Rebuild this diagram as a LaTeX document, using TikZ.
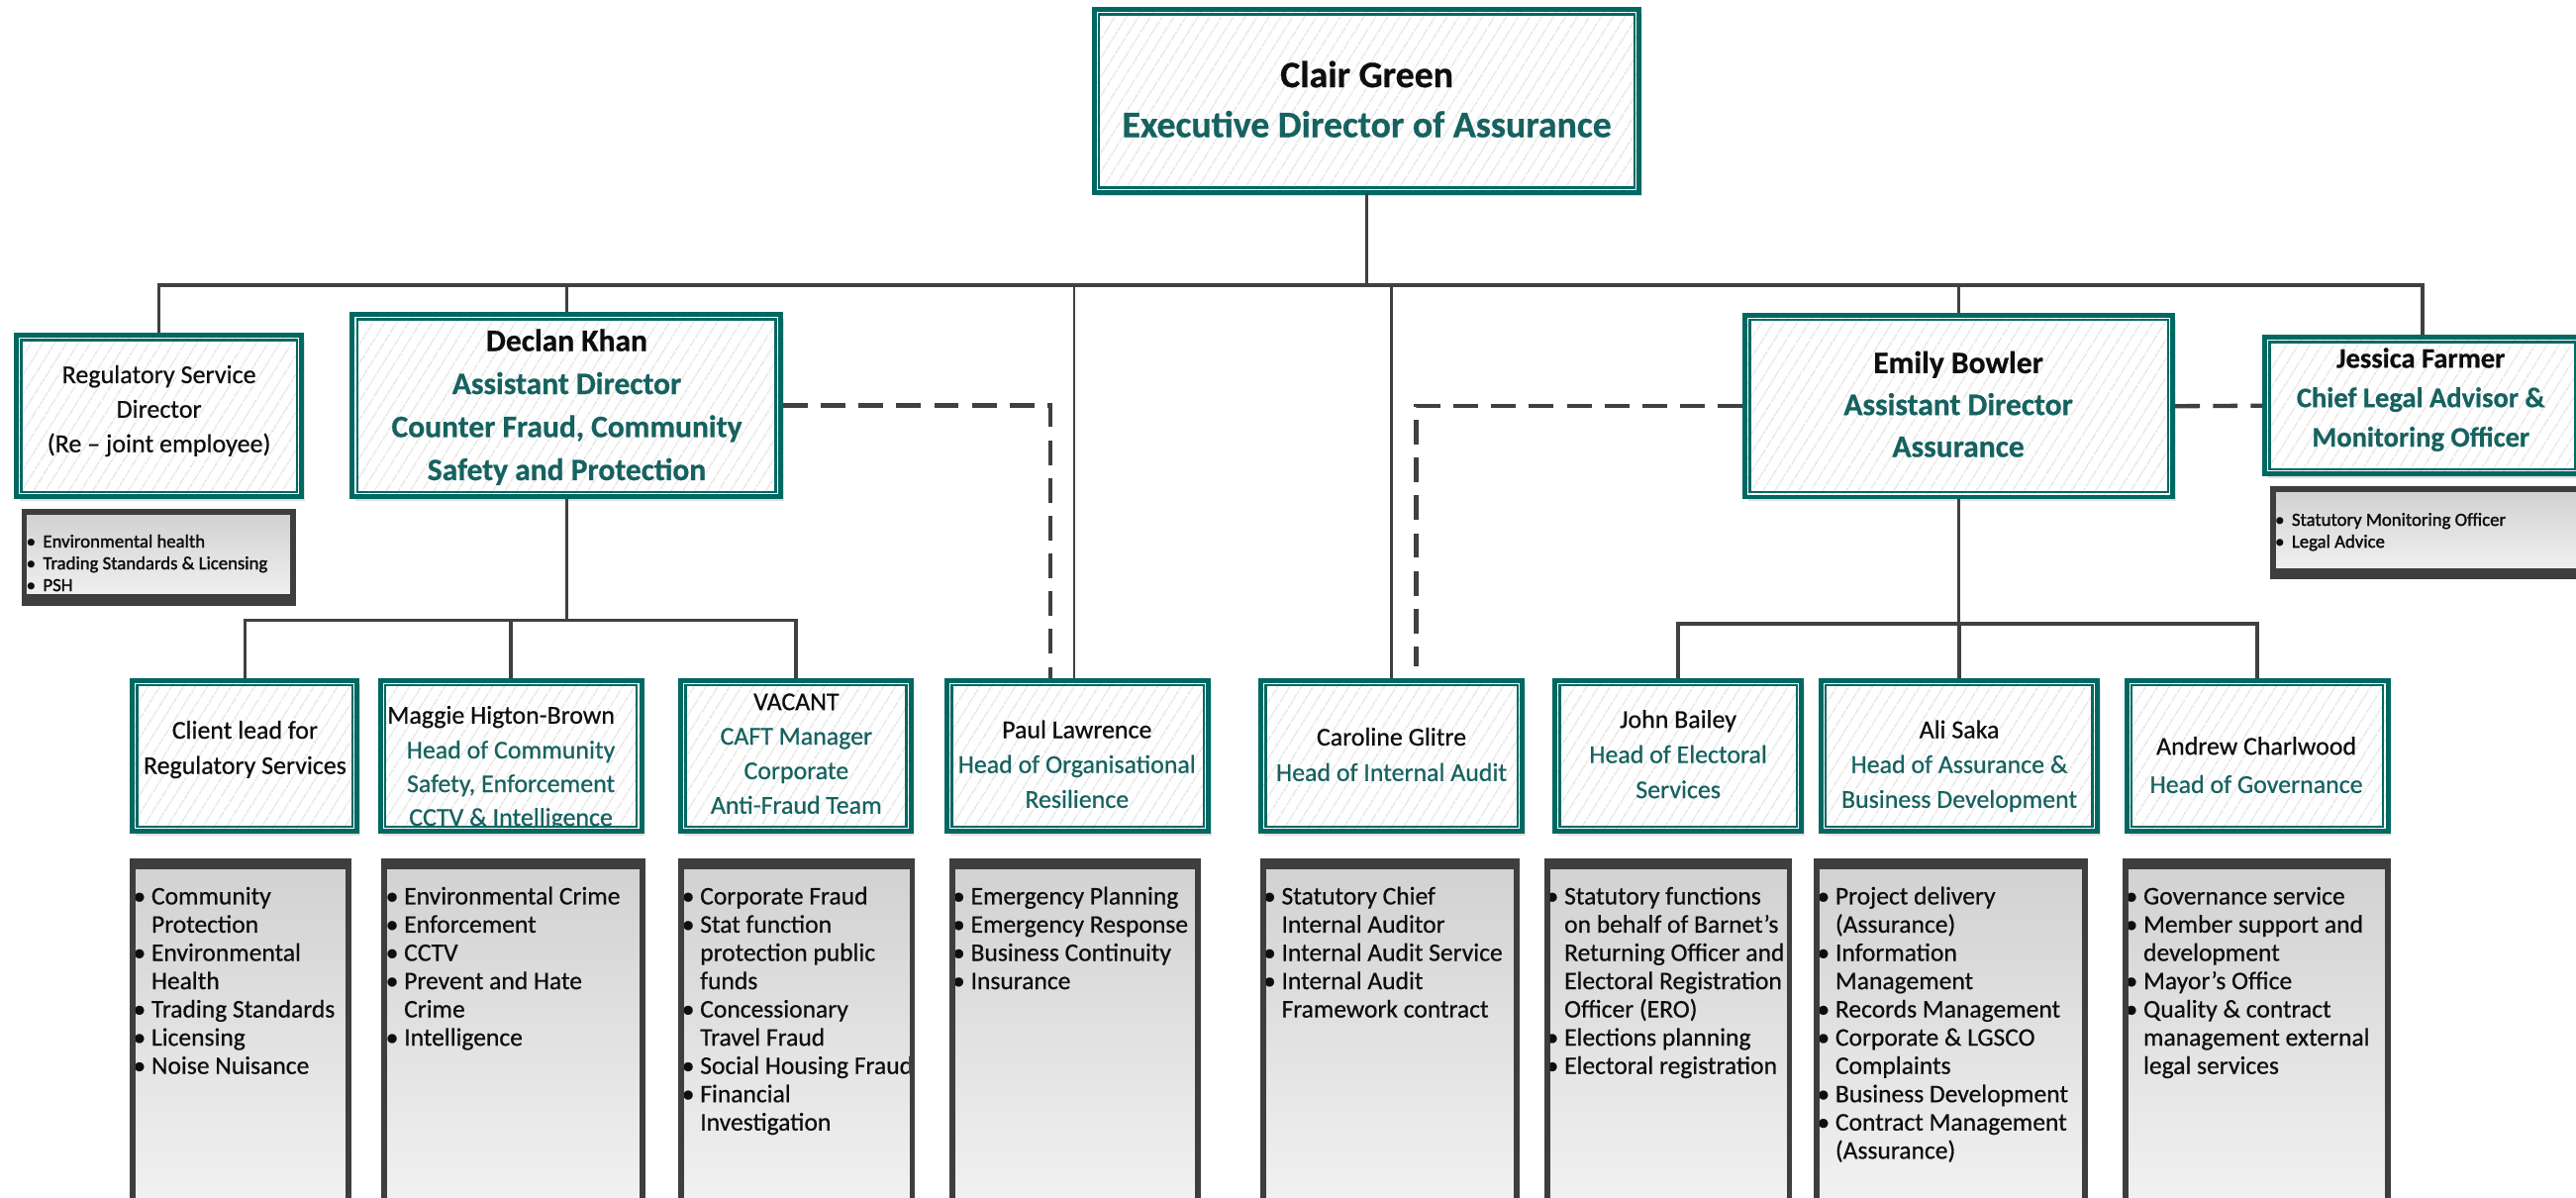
\documentclass[tikz,border=0pt]{standalone}
\usepackage{fontspec}
\setmainfont{Carlito}[FakeBold=0.6]
\newfontfamily\smallheavy{Carlito}[FakeBold=1.6]
\usetikzlibrary{patterns.meta,shadows}
\definecolor{tealb}{RGB}{0,104,98}
\definecolor{tealt}{RGB}{22,98,96}
\definecolor{connc}{RGB}{64,64,64}
\definecolor{gbord}{RGB}{62,62,62}
\definecolor{txtk}{RGB}{14,14,14}
\newcommand\tealnode[5]{\node[tealbox, minimum width={(#4-#2-3)*1pt}, minimum height={(#5-#3-3)*1pt}] (#1) at ({(#2+#4)/2},{(#3+#5)/2}) {};}
\newcommand\greynode[6]{\node[greybox,#6, minimum width={(#4-#2-3.5)*1pt}, minimum height={(#5-#3-3.5)*1pt}] (#1) at ({(#2+#4)/2},{(#3+#5)/2}) {};}
\newcommand\gbul{\strut\llap{\textbullet\hspace{3.5pt}}}
\newcommand\sbul{\strut\llap{\textbullet\hspace{4.5pt}}}
\newcommand\gcon{\strut}
\newcommand\tealline[1]{\textcolor{tealt}{\strut #1}}
\newcommand\blackline[1]{\strut #1}
\newcommand\clipin[1]{\clip ([shift={(3.5pt,-3.5pt)}]#1.north west) rectangle ([shift={(-3.5pt,3.5pt)}]#1.south east);}
\tikzset{
 tealbox/.style={draw=tealb, line width=3pt, inner sep=0pt,
  drop shadow={shadow xshift=2pt, shadow yshift=-2.5pt, fill=black, opacity=0.12},
  preaction={fill=white},
  pattern={Lines[angle=58,distance=6.4pt,line width=0.8pt]}, pattern color=black!11,
  path picture={\draw[tealb, line width=1.4pt] ([shift={(2.9pt,-2.9pt)}]path picture bounding box.north west) rectangle ([shift={(-2.9pt,2.9pt)}]path picture bounding box.south east);}},
 greybox/.style={draw=gbord, line width=3.5pt, inner sep=0pt, top color=black!18, bottom color=black!5},
 topband/.style={path picture={\fill[gbord] (path picture bounding box.north west) rectangle ([yshift=-5pt]path picture bounding box.north east);}},
 botband/.style={path picture={\fill[gbord] ([yshift=5pt]path picture bounding box.south west) rectangle (path picture bounding box.south east);}},
 conn/.style={draw=connc, line width=2pt},
 thinconn/.style={draw=connc, line width=1.2pt},
 dashc/.style={draw=connc, line width=2.6pt, dash pattern=on 15pt off 8pt},
 ctxt/.style={inner sep=0pt, align=center, text=txtk},
 gtxt/.style={inner sep=0pt, align=left, anchor=north west, text=txtk, font=\fontsize{15.4}{17.2}\selectfont},
 stxt/.style={inner sep=0pt, align=left, anchor=north west, text=txtk, font=\smallheavy\fontsize{11.3}{13.3}\selectfont},
}
\begin{document}
\begin{tikzpicture}[x=1pt,y=-1pt]
\useasboundingbox (0,0) rectangle (1568,729);
\fill[white] (0,0) rectangle (1568,729);
\clip (0,0) rectangle (1568,729);
\coordinate (bar) at (0,173.5);
\coordinate (dbar) at (0,377.6);
\coordinate (ebar) at (0,379.6);
% teal boxes
\tealnode{clair}{664.5}{4.4}{999.3}{118.5}
\tealnode{reg}{8.6}{202.5}{185}{303.7}
\tealnode{declan}{213}{190}{476.6}{303.7}
\tealnode{emily}{1060.7}{190.4}{1324}{304}
\tealnode{jess}{1377}{203.8}{1572}{290}
\tealnode{client}{79}{412.5}{219}{507.5}
\tealnode{maggie}{230}{412.5}{392}{507.5}
\tealnode{vacant}{413}{412.5}{556}{507.5}
\tealnode{paul}{575}{412.5}{737}{507.5}
\tealnode{caroline}{766}{412.5}{928}{507.5}
\tealnode{john}{945}{412.5}{1098}{507.5}
\tealnode{ali}{1107}{412.5}{1278}{507.5}
\tealnode{andrew}{1293}{412.5}{1455}{507.5}
% grey boxes
\greynode{regg}{13}{310}{180}{368.6}{botband}
\greynode{jessg}{1381.6}{296}{1580}{352.5}{botband}
\greynode{ga}{79}{522.6}{214}{740}{topband}
\greynode{gb}{232}{522.6}{393}{740}{topband}
\greynode{gc}{413}{522.6}{557}{740}{topband}
\greynode{gd}{578}{522.6}{731}{740}{topband}
\greynode{ge}{767}{522.6}{925}{740}{topband}
\greynode{gf}{940}{522.6}{1091}{740}{topband}
\greynode{gg}{1104}{522.6}{1271}{740}{topband}
\greynode{gh}{1292}{522.6}{1455}{740}{topband}
% connectors
\draw[conn] (reg.north) -- (reg.north |- bar) -- (jess.north |- bar) -- (jess.north);
\draw[conn] (clair.south) -- (clair.south |- bar);
\draw[conn] (declan.north) -- (declan.north |- bar);
\draw[conn] (emily.north) -- (emily.north |- bar);
\draw[conn] (caroline.north) -- (caroline.north |- bar);
\draw[thinconn] ([xshift=-2pt]paul.north) -- ([xshift=-2pt]paul.north |- bar);
\draw[conn] (declan.south) -- (declan.south |- dbar);
\draw[conn] (client.north) -- (client.north |- dbar) -- (vacant.north |- dbar) -- (vacant.north);
\draw[conn] (maggie.north) -- (maggie.north |- dbar);
\draw[conn] (emily.south) -- (emily.south |- ebar);
\draw[conn] (john.north) -- (john.north |- ebar) -- (andrew.north |- ebar) -- (andrew.north);
\draw[conn] (ali.north) -- (ali.north |- ebar);
\draw[dashc] (declan.east) -| ([xshift=-16.5pt]paul.north);
\draw[dashc] (emily.west) -| ([xshift=15pt,yshift=7pt]caroline.north);
\draw[dashc] (emily.east) -- (jess.west);
% box texts
\node[ctxt, font=\fontsize{22.8}{30.4}\selectfont\bfseries] (clairT) at (832,62.2) {\blackline{Clair Green}\\\tealline{Executive Director of Assurance}};
\node[ctxt, font=\fontsize{15.7}{21}\selectfont] (regT) at (96.8,250) {\blackline{Regulatory Service}\\\blackline{Director}\\\blackline{(Re – joint employee)}};
\node[ctxt, font=\fontsize{19}{26.2}\selectfont\bfseries] (declanT) at (345,247.7) {\blackline{Declan Khan}\\\tealline{Assistant Director}\\\tealline{Counter Fraud, Community}\\\tealline{Safety and Protection}};
\node[ctxt, font=\fontsize{19}{25.5}\selectfont\bfseries] (emilyT) at (1192,247.5) {\blackline{Emily Bowler}\\\tealline{Assistant Director}\\\tealline{Assurance}};
\node[ctxt, font=\fontsize{17.2}{24}\selectfont\bfseries] (jessT) at (1473.5,243) {\blackline{Jessica Farmer}\\\tealline{Chief Legal Advisor \&}\\\tealline{Monitoring Officer}};
\node[ctxt, font=\fontsize{15.6}{21.5}\selectfont] (clientT) at (149.1,456) {\blackline{Client lead for}\\\blackline{Regulatory Services}};
\begin{scope}
\clip ([shift={(3.6pt,-3.6pt)}]maggie.north west) rectangle ([shift={(-3.6pt,5.5pt)}]maggie.south east);
\node[ctxt, font=\fontsize{15.6}{20.5}\selectfont] (maggieN) at (305,436.3) {\blackline{Maggie Higton-Brown}};
\node[ctxt, font=\fontsize{15.6}{20.5}\selectfont] (maggieT) at (311,478) {\tealline{Head of Community}\\\tealline{Safety, Enforcement}\\\tealline{CCTV \& Intelligence}};
\end{scope}
\node[ctxt, font=\fontsize{15.6}{21}\selectfont] (vacantT) at (484.7,459.5) {\blackline{VACANT}\\\tealline{CAFT Manager}\\\tealline{Corporate}\\\tealline{Anti-Fraud Team}};
\node[ctxt, font=\fontsize{15.6}{21.2}\selectfont] (paulT) at (655.5,466.2) {\blackline{Paul Lawrence}\\\tealline{Head of Organisational}\\\tealline{Resilience}};
\node[ctxt, font=\fontsize{15.6}{21.6}\selectfont] (carolineT) at (847,460.2) {\blackline{Caroline Glitre}\\\tealline{Head of Internal Audit}};
\node[ctxt, font=\fontsize{15.6}{21.4}\selectfont] (johnT) at (1021.5,460.1) {\blackline{John Bailey}\\\tealline{Head of Electoral}\\\tealline{Services}};
\node[ctxt, font=\fontsize{15.6}{21.2}\selectfont] (aliT) at (1192.6,466.2) {\blackline{Ali Saka}\\\tealline{Head of Assurance \&}\\\tealline{Business Development}};
\node[ctxt, font=\fontsize{15.6}{23.3}\selectfont] (andrewT) at (1373.4,466.3) {\blackline{Andrew Charlwood}\\\tealline{Head of Governance}};
% small grey texts
\node[stxt] (reggT) at (26,323.7) {\sbul Environmental health\\\sbul Trading Standards \& Licensing\\\sbul PSH};
\node[stxt] (jessgT) at (1394.8,310.5) {\sbul Statutory Monitoring Officer\\\sbul Legal Advice};
% grey list texts
\begin{scope}\clipin{ga}
\node[gtxt] (gaT) at (92,538.2) {\gbul Community\\\gcon Protection\\\gbul Environmental\\\gcon Health\\\gbul Trading Standards\\\gbul Licensing\\\gbul Noise Nuisance};
\end{scope}
\begin{scope}\clipin{gb}
\node[gtxt] (gbT) at (245.8,538.2) {\gbul Environmental Crime\\\gbul Enforcement\\\gbul CCTV\\\gbul Prevent and Hate\\\gcon Crime\\\gbul Intelligence};
\end{scope}
\begin{scope}\clipin{gc}
\node[gtxt] (gcT) at (426,538.2) {\gbul Corporate Fraud\\\gbul Stat function\\\gcon protection public\\\gcon funds\\\gbul Concessionary\\\gcon Travel Fraud\\\gbul Social Housing Fraud\\\gbul Financial\\\gcon Investigation};
\end{scope}
\begin{scope}\clipin{gd}
\node[gtxt] (gdT) at (590.7,538.2) {\gbul Emergency Planning\\\gbul Emergency Response\\\gbul Business Continuity\\\gbul Insurance};
\end{scope}
\begin{scope}\clipin{ge}
\node[gtxt] (geT) at (779.9,538.2) {\gbul Statutory Chief\\\gcon Internal Auditor\\\gbul Internal Audit Service\\\gbul Internal Audit\\\gcon Framework contract};
\end{scope}
\begin{scope}\clipin{gf}
\node[gtxt] (gfT) at (952,538.2) {\gbul Statutory functions\\\gcon on behalf of Barnet's\\\gcon Returning Officer and\\\gcon Electoral Registration\\\gcon Officer (ERO)\\\gbul Elections planning\\\gbul Electoral registration};
\end{scope}
\begin{scope}\clipin{gg}
\node[gtxt] (ggT) at (1117,538.2) {\gbul Project delivery\\\gcon (Assurance)\\\gbul Information\\\gcon Management\\\gbul Records Management\\\gbul Corporate \& LGSCO\\\gcon Complaints\\\gbul Business Development\\\gbul Contract Management\\\gcon (Assurance)};
\end{scope}
\begin{scope}\clipin{gh}
\node[gtxt] (ghT) at (1304.5,538.2) {\gbul Governance service\\\gbul Member support and\\\gcon development\\\gbul Mayor’s Office\\\gbul Quality \& contract\\\gcon management external\\\gcon legal services};
\end{scope}
\end{tikzpicture}
\end{document}
